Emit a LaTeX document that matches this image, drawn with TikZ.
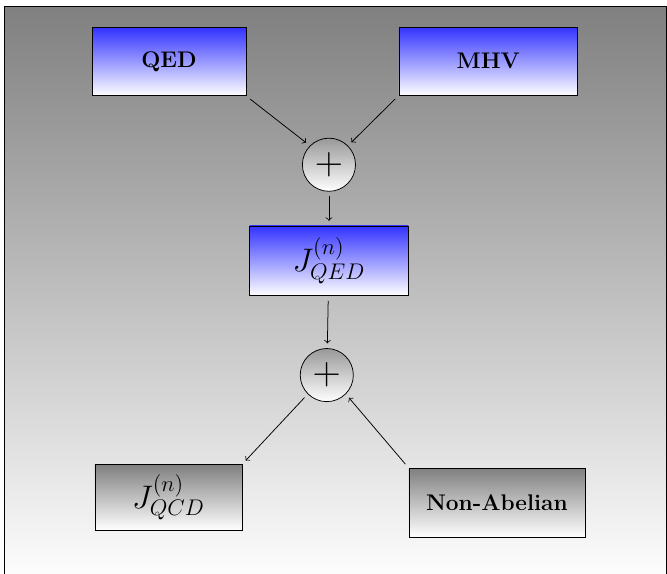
\documentclass[tikz,border=0pt]{standalone}
\tikzset{
  bluebox/.style={draw, thin, top color=blue!80!white, bottom color=white,
    minimum width=#1, minimum height=1.27cm, font=\large\bfseries},
  graybox/.style={draw, thin, top color=black!50, bottom color=white,
    minimum width=#1, minimum height=1.27cm, font=\large\bfseries},
  plusnode/.style={draw, circle, top color=black!40, bottom color=white,
    minimum size=0.99cm, inner sep=0pt, font=\huge},
  link/.style={->, thin, shorten <=2.5pt, shorten >=2.5pt}
}
\begin{document}
\begin{tikzpicture}
  \useasboundingbox (0,0) rectangle (12.43,-10.69);
  % background
  \draw[top color=black!50, bottom color=white] (0.075,-0.112) rectangle (12.41,-10.9);

  \node[bluebox=2.87cm] (qed) at (3.15,-1.15) {QED};
  \node[bluebox=3.33cm] (mhv) at (9.10,-1.14) {MHV};
  \node[plusnode]       (sum1) at (6.13,-3.07) {$+$};
  \node[bluebox=2.96cm, minimum height=1.30cm] (jqed) at (6.13,-4.86) {\LARGE $J^{(n)}_{QED}$};
  \node[plusnode]       (sum2) at (6.09,-6.99) {$+$};
  \node[graybox=2.74cm, minimum height=1.23cm] (jqcd) at (3.14,-9.27) {\LARGE $J^{(n)}_{QCD}$};
  \node[graybox=3.28cm, minimum height=1.29cm] (nonab) at (9.26,-9.37) {Non-Abelian};

  \draw[link] (qed.south east)   -- (sum1.north west);
  \draw[link] (mhv.south west)   -- (sum1.north east);
  \draw[link] (sum1)             -- (jqed);
  \draw[link] (jqed)             -- (sum2);
  \draw[link] (sum2.south west)  -- (jqcd.north east);
  \draw[link] (nonab.north west) -- (sum2.south east);
\end{tikzpicture}
\end{document}
